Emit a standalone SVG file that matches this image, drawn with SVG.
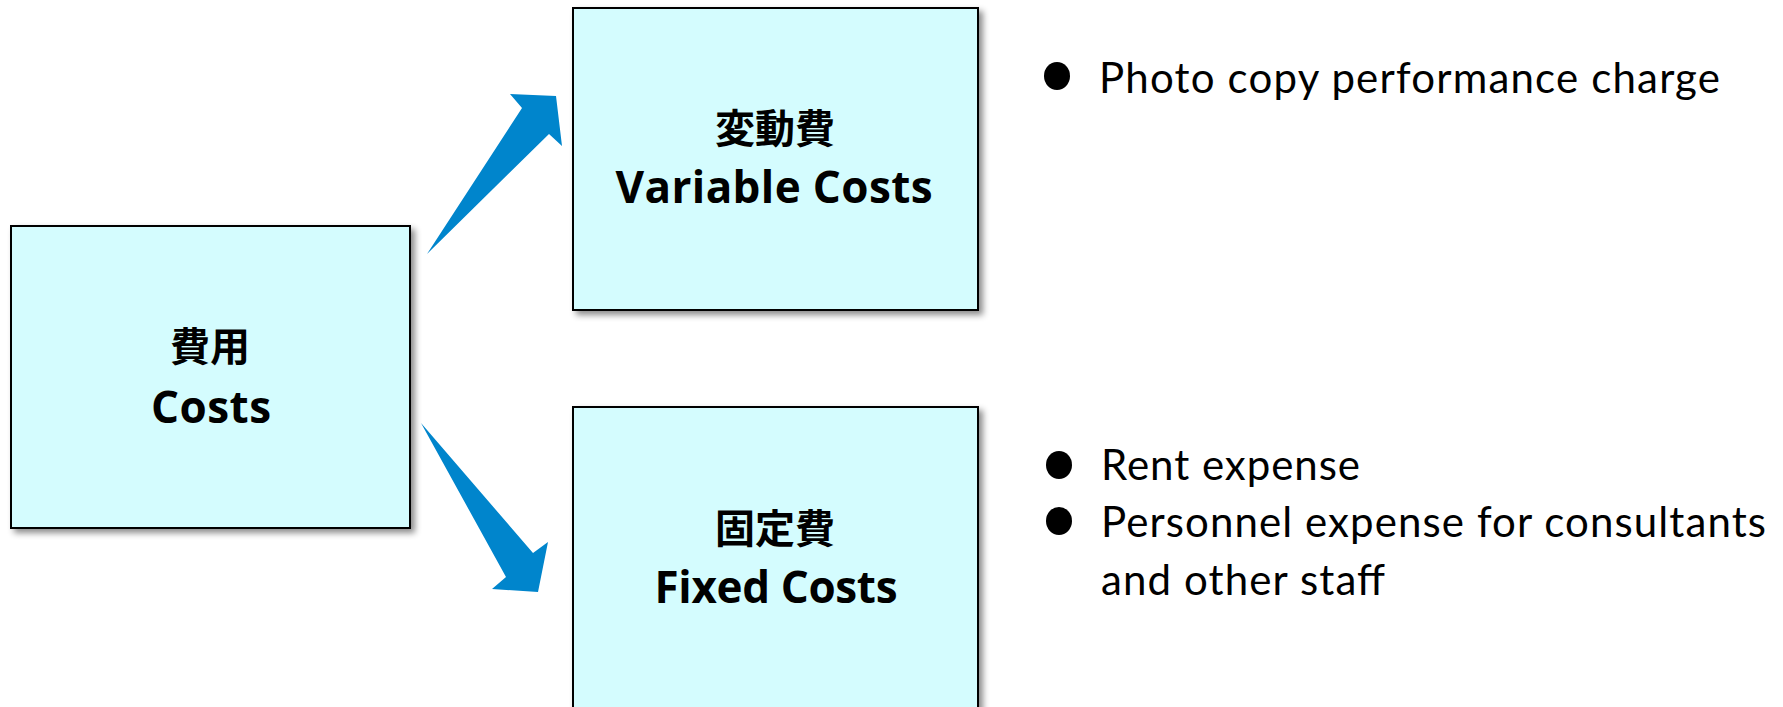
<svg xmlns="http://www.w3.org/2000/svg" width="1783" height="707" viewBox="0 0 1783 707">
<defs>
<filter id="sh" x="-5%" y="-5%" width="115%" height="115%">
<feDropShadow dx="4" dy="4" stdDeviation="3" flood-color="#000" flood-opacity="0.45"/>
</filter>
<style>
.box{fill:#D4FCFE;stroke:#000;stroke-width:2;filter:url(#sh)}
.cjk{font-family:"Noto Sans CJK JP","Noto Sans CJK SC",sans-serif;font-weight:bold;font-size:40px;fill:#000;text-anchor:middle}
.en{font-family:"Open Sans",Lato,sans-serif;font-weight:bold;font-size:44px;fill:#000;text-anchor:middle}
.item{font-family:Lato,"Open Sans",sans-serif;font-size:42px;fill:#000}
.arrow{fill:#0085CC}
.dot{fill:#000}
</style>
</defs>
<rect width="1783" height="707" fill="#fff"/>
<g id="costs">
<rect class="box" x="11" y="226" width="399" height="302"/>
<text class="cjk" x="210" y="361">費用</text>
<text class="en" x="211" y="423" textLength="120">Costs</text>
</g>
<g id="variable">
<rect class="box" x="573" y="8" width="405" height="302"/>
<text class="cjk" x="775" y="143">変動費</text>
<text class="en" x="774" y="203" textLength="317">Variable Costs</text>
</g>
<g id="fixed">
<rect class="box" x="573" y="407" width="405" height="310"/>
<text class="cjk" x="775" y="543">固定費</text>
<text class="en" x="776" y="603" textLength="243">Fixed Costs</text>
</g>
<g id="connectors">
<polygon class="arrow" points="427,254 522,108 510,94 556,96 562,146 549,134"/>
<polygon class="arrow" points="421,423 533,553 548,542 538,592 492,589 506,577"/>
</g>
<g id="variable-items">
<ellipse class="dot" cx="1057" cy="76" rx="13" ry="14"/>
<text class="item" x="1099" y="93" textLength="621">Photo copy performance charge</text>
</g>
<g id="fixed-items">
<ellipse class="dot" cx="1059" cy="465" rx="13" ry="14"/>
<text class="item" x="1101" y="480" textLength="259">Rent expense</text>
<ellipse class="dot" cx="1059" cy="521" rx="13" ry="14"/>
<text class="item" x="1101" y="537" textLength="665">Personnel expense for consultants</text>
<text class="item" x="1101" y="595" textLength="284">and other staff</text>
</g>
</svg>
